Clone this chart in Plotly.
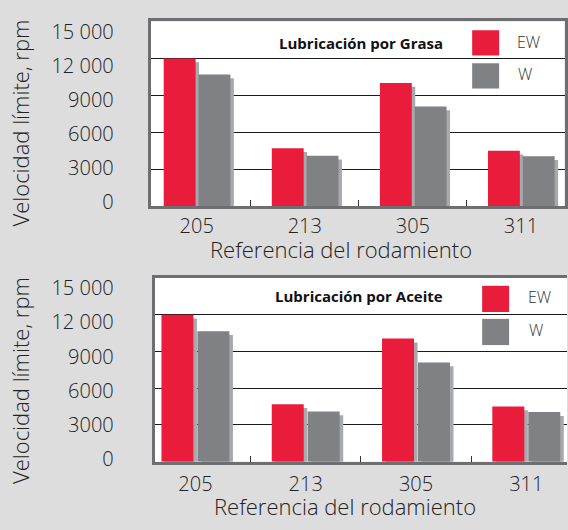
import plotly.graph_objects as go

categories = ["205", "213", "305", "311"]
ew_grasa = [12000, 4700, 10000, 4500]
w_grasa = [10700, 4100, 8100, 4050]
ew_aceite = [12000, 4700, 10050, 4500]
w_aceite = [10650, 4100, 8100, 4050]
y_tickvals = [0, 3000, 6000, 9000, 12000, 15000]
y_ticktext = ["0", "3000", "6000", "9000", "12 000", "15 000"]
grid_vals = [3000, 6000, 9000, 12000]

RED = "#EA1C3C"
GRAY = "#808184"
SHADOW = "#A8A9AC"
BORDER = "#6D6E71"
BG = "#DDDDDE"
FONT = "Open Sans"

W, H = 568, 530
def px(x): return x / W
def py(y): return 1 - y / H

fig = go.Figure()

def add_pair(ew, w, xa, ya, bw, ew_off, w_off, sh_dx, sh_dy):
    fig.add_bar(x=categories, y=ew, base=-sh_dy, width=bw, offset=ew_off + sh_dx,
                marker=dict(color=SHADOW, line=dict(width=0)), xaxis=xa, yaxis=ya,
                showlegend=False, hoverinfo="skip")
    fig.add_bar(x=categories, y=w, base=-sh_dy, width=bw, offset=w_off + sh_dx,
                marker=dict(color=SHADOW, line=dict(width=0)), xaxis=xa, yaxis=ya,
                showlegend=False, hoverinfo="skip")
    fig.add_bar(x=categories, y=ew, width=bw, offset=ew_off, name="EW",
                marker=dict(color=RED, line=dict(width=0)), xaxis=xa, yaxis=ya,
                showlegend=False)
    fig.add_bar(x=categories, y=w, width=bw, offset=w_off, name="W",
                marker=dict(color=GRAY, line=dict(width=0)), xaxis=xa, yaxis=ya,
                showlegend=False)

add_pair(ew_grasa, w_grasa, "x", "y", 0.295, -0.305, 0.017, 0.032, 310)
add_pair(ew_aceite, w_aceite, "x2", "y2", 0.29, -0.308, 0.018, 0.032, 310)

# empty helper traces so the label-only axes get drawn
fig.add_scatter(x=[None], y=[None], xaxis="x", yaxis="y3", showlegend=False, hoverinfo="skip")
fig.add_scatter(x=[None], y=[None], xaxis="x2", yaxis="y4", showlegend=False, hoverinfo="skip")

tickfont = dict(family=FONT, size=20, color="#222", weight=300)

def xaxis_cfg(domain, rng, standoff):
    return dict(domain=domain, range=rng, type="category", showline=True,
                linecolor=BORDER, linewidth=3, mirror=True, ticks="inside",
                tickson="boundaries", ticklen=6, tickwidth=1.2, tickcolor="#333",
                showgrid=False, tickfont=tickfont, ticklabelstandoff=standoff,
                fixedrange=True)

fig.update_layout(
    width=W, height=H,
    margin=dict(l=0, r=0, t=0, b=0),
    paper_bgcolor=BG, plot_bgcolor="white",
    barmode="overlay",
    showlegend=False,
    xaxis=dict(xaxis_cfg([px(151), px(565.5)], [-0.425, 3.403], 0), anchor="y"),
    yaxis=dict(domain=[py(208), py(18)], range=[0, 15000], anchor="x",
               showline=True, linecolor=BORDER, linewidth=3, mirror=True,
               tickvals=grid_vals, showticklabels=False, ticks="",
               showgrid=True, gridcolor="#1a1a1a", gridwidth=1.2, zeroline=False),
    yaxis3=dict(domain=[py(208), py(18)], range=[-368, 15881], anchor="x",
                overlaying="y", side="left", showline=False, showgrid=False,
                zeroline=False, tickvals=y_tickvals, ticktext=y_ticktext,
                ticks="", tickfont=tickfont, ticklabelstandoff=36),
    xaxis2=dict(xaxis_cfg([px(155), 1.0], [-0.369, 3.369], 2), anchor="y2"),
    yaxis2=dict(domain=[py(471), py(282)], range=[0, 15000], anchor="x2",
                showline=True, linecolor=BORDER, linewidth=3, mirror=False,
                tickvals=grid_vals, showticklabels=False, ticks="",
                showgrid=True, gridcolor="#1a1a1a", gridwidth=1.2, zeroline=False),
    yaxis4=dict(domain=[py(471), py(282)], range=[-196, 15894], anchor="x2",
                overlaying="y2", side="left", showline=False, showgrid=False,
                zeroline=False, tickvals=y_tickvals, ticktext=y_ticktext,
                ticks="", tickfont=tickfont, ticklabelstandoff=40),
)

light = dict(family=FONT, size=22, color="#222", weight=300)
bold = dict(family=FONT, size=15, color="#111", weight=700)
leg = dict(family=FONT, size=16, color="#333", weight=300)

annos = [
    dict(x=px(20), y=py(122), text="Velocidad límite, rpm", textangle=-90, font=light),
    dict(x=px(20), y=py(387), text="Velocidad límite, rpm", textangle=-90, font=light),
    dict(x=px(342), y=py(252), text="Referencia del rodamiento", font=light),
    dict(x=px(346), y=py(516.5), text="Referencia del rodamiento", font=light),
    dict(x=px(361.5), y=py(40.5), text="Lubricación por Grasa", font=bold),
    dict(x=px(359.5), y=py(300), text="Lubricación por Aceite", font=bold),
    dict(x=px(529.5), y=py(39), text="EW", font=leg),
    dict(x=px(526), y=py(72), text="W", font=leg),
    dict(x=px(540), y=py(302), text="EW", font=leg),
    dict(x=px(537), y=py(336), text="W", font=leg),
]
for a in annos:
    a.update(xref="paper", yref="paper", showarrow=False, xanchor="center", yanchor="middle")
    fig.add_annotation(**a)

def sq(x0, y0, x1, y1, color):
    fig.add_shape(type="rect", xref="paper", yref="paper",
                  x0=px(x0), x1=px(x1), y0=py(y1), y1=py(y0),
                  fillcolor=color, line=dict(width=0), layer="above")

sq(473, 27, 500, 53, RED)
sq(473, 61, 500, 87, GRAY)
sq(483, 290, 510, 317, RED)
sq(483, 324, 510, 351, GRAY)

fig.write_html(
    "out.html",
    config={"displayModeBar": False},
    post_script="document.body.style.margin='0';document.body.style.overflow='hidden';",
)
